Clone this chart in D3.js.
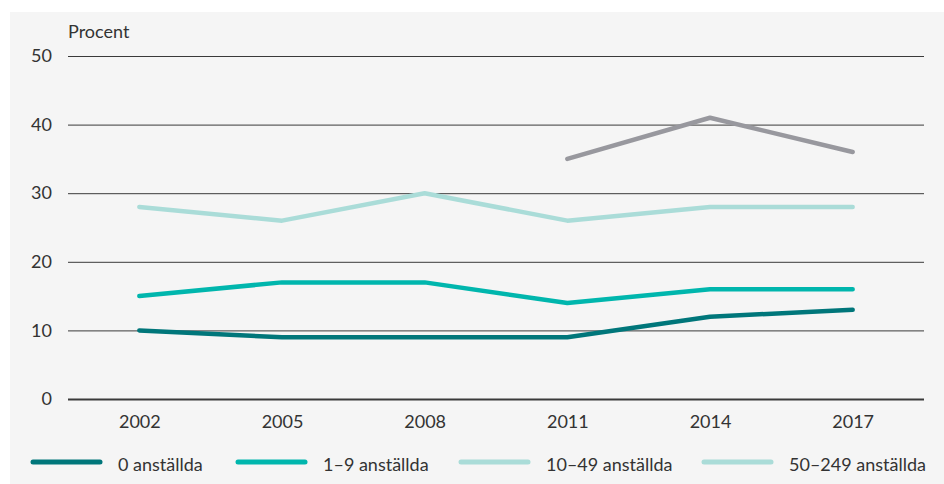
<!DOCTYPE html>
<html>
<head>
<meta charset="utf-8">
<script src="https://cdn.jsdelivr.net/npm/d3@7"></script>
<style>
  html, body { margin: 0; padding: 0; background: #ffffff; }
  svg { display: block; }
  text { font-family: Lato, "Open Sans", sans-serif; fill: #333333; }
</style>
</head>
<body>
<svg id="chart" width="944" height="484"></svg>
<script>
// Survey years on the x axis
const years = ["2002", "2005", "2008", "2011", "2014", "2017"];

// Share (percent) per company size group
const size0 = [10, 9, 9, 9, 12, 13];
const size1to9 = [15, 17, 17, 14, 16, 16];
const size10to49 = [28, 26, 30, 26, 28, 28];
const size50to249 = [null, null, null, 35, 41, 36];

const yTicks = [0, 10, 20, 30, 40, 50];

const seriesNames = ["0 anställda", "1–9 anställda", "10–49 anställda", "50–249 anställda"];
const seriesValues = [size0, size1to9, size10to49, size50to249];
const lineColors = ["#00767a", "#00b6ad", "#aadcd8", "#98989e"];
const legendColors = ["#00767a", "#00b6ad", "#aadcd8", "#aadcd8"];

const svg = d3.select("#chart");

// Light grey panel behind the chart
svg.append("rect")
  .attr("x", 10).attr("y", 12)
  .attr("width", 934).attr("height", 472)
  .attr("fill", "#f5f5f5");

const x = d3.scalePoint().domain(years).range([68, 924]).padding(0.5);
const y = d3.scaleLinear().domain([0, 50]).range([399, 56]);

// Horizontal grid lines with value labels
const yAxis = svg.append("g")
  .attr("transform", "translate(68,0)")
  .call(d3.axisLeft(y).tickValues(yTicks).tickSize(-856).tickPadding(16).tickFormat(d3.format("d")));
yAxis.select(".domain").remove();
yAxis.selectAll(".tick line")
  .attr("stroke", "#3a3a3a")
  .attr("stroke-width", d => d === 0 ? 2 : 1);
yAxis.selectAll(".tick text")
  .style("font-size", "18px")
  .attr("fill", "#333333");

// Year labels below the baseline
const xAxis = svg.append("g")
  .attr("transform", "translate(0,399)")
  .call(d3.axisBottom(x).tickSize(0).tickPadding(16));
xAxis.select(".domain").remove();
xAxis.selectAll(".tick text")
  .style("font-size", "18px")
  .attr("fill", "#333333");

// Axis title
svg.append("text")
  .attr("x", 68).attr("y", 38)
  .style("font-size", "18px")
  .text("Procent");

// Series lines
const line = d3.line()
  .defined(d => d.v !== null)
  .x(d => x(d.year))
  .y(d => y(d.v));

seriesValues.forEach((vals, i) => {
  const pts = years.map((yr, j) => ({ year: yr, v: vals[j] }));
  svg.append("path")
    .datum(pts)
    .attr("fill", "none")
    .attr("stroke", lineColors[i])
    .attr("stroke-width", 4.5)
    .attr("stroke-linejoin", "round")
    .attr("stroke-linecap", "round")
    .attr("d", line);
});

// Legend along the bottom
const legendX = [33, 238, 461, 704];
const legend = svg.append("g");
seriesNames.forEach((name, i) => {
  const g = legend.append("g").attr("transform", `translate(${legendX[i]},462)`);
  g.append("line")
    .attr("x1", 0).attr("x2", 67)
    .attr("y1", 0).attr("y2", 0)
    .attr("stroke", legendColors[i])
    .attr("stroke-width", 5)
    .attr("stroke-linecap", "round");
  g.append("text")
    .attr("x", 85).attr("y", 8.5)
    .style("font-size", "18px")
    .text(name);
});
</script>
</body>
</html>
